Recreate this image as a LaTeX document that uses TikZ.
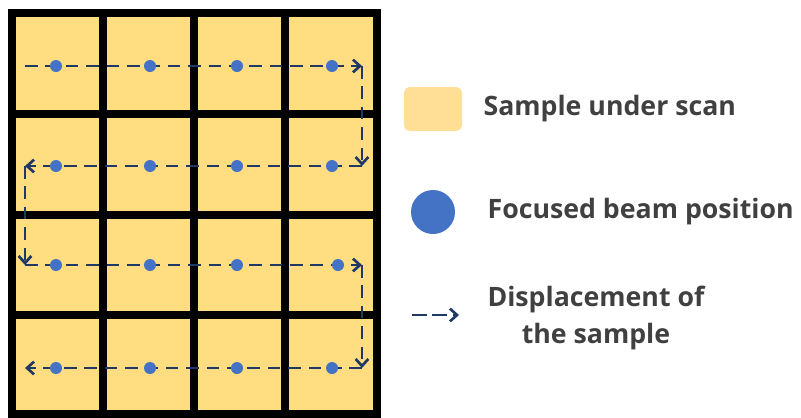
\documentclass[tikz,border=0pt]{standalone}
\usepackage{fontspec}
\setmainfont{Open Sans}
\usepackage{xcolor}
\usepackage{tikz}
\usetikzlibrary{arrows.meta,shapes,positioning}

\definecolor{samplefill}{RGB}{255,221,128}
\definecolor{legendfill}{RGB}{255,222,150}
\definecolor{beamblue}{RGB}{68,114,196}
\definecolor{pathblue}{RGB}{31,56,100}
\definecolor{textgray}{RGB}{64,64,64}

\begin{document}
\begin{tikzpicture}[
    x=0.025cm, y=-0.025cm,
    gridline/.style={line width=5pt, black},
    beam/.style={circle, fill=beamblue, inner sep=0pt, minimum size=0.3cm},
    scan/.style={pathblue, line width=1.9pt, dash pattern=on 9pt off 5.5pt, -{Straight Barb[length=5pt, width=9pt]}},
    legtext/.style={inner sep=0pt, text=textgray, font=\fontsize{19}{26}\selectfont\bfseries}
  ]
    \useasboundingbox (0,0) rectangle (801,417);

    % Sample grid
    \fill[samplefill] (12,13) rectangle (377,414);
    \draw[gridline] (12,13) rectangle (377,414);
    \draw[gridline] (103,13) -- (103,414);
    \draw[gridline] (194,13) -- (194,414);
    \draw[gridline] (285,13) -- (285,414);
    \draw[gridline] (12,114) -- (377,114);
    \draw[gridline] (12,215) -- (377,215);
    \draw[gridline] (12,315) -- (377,315);

    % Scan path corners
    \coordinate (c1) at (25,66);
    \coordinate (c2) at (362,66);
    \coordinate (c3) at (362,166);
    \coordinate (c4) at (25,166);
    \coordinate (c5) at (25,265);
    \coordinate (c6) at (362,265);
    \coordinate (c7) at (362,368);
    \coordinate (c8) at (25,368);

    % Scan path
    \draw[scan] (c1) -- (c2);
    \draw[scan] (c2) -- (c3);
    \draw[scan] (c3) -- (c4);
    \draw[scan] (c4) -- (c5);
    \draw[scan] (c5) -- (c6);
    \draw[scan] (c6) -- (c7);
    \draw[scan] (c7) -- (c8);

    % Beam positions
    \node[beam] (dot11) at (56,66) {};
    \node[beam] (dot12) at (150,66) {};
    \node[beam] (dot13) at (237,66) {};
    \node[beam] (dot14) at (332,66) {};
    \node[beam] (dot21) at (56,166) {};
    \node[beam] (dot22) at (150,166) {};
    \node[beam] (dot23) at (237,166) {};
    \node[beam] (dot24) at (332,166) {};
    \node[beam] (dot31) at (56,265) {};
    \node[beam] (dot32) at (150,265) {};
    \node[beam] (dot33) at (237,265) {};
    \node[beam] (dot34) at (338,265) {};
    \node[beam] (dot41) at (56,368) {};
    \node[beam] (dot42) at (150,368) {};
    \node[beam] (dot43) at (237,368) {};
    \node[beam] (dot44) at (332,368) {};

    % Legend
    \node[rectangle, rounded corners=4pt, fill=legendfill, minimum width=1.45cm, minimum height=1.1cm, inner sep=0pt] (leg_sample) at (433,109) {};
    \node[legtext, anchor=west, right=0.525cm of leg_sample] (txt_sample) {Sample under scan};
    \node[circle, fill=beamblue, minimum size=1.1cm, inner sep=0pt] (leg_beam) at (433,212) {};
    \node[legtext, anchor=west, right=0.8cm of leg_beam] (txt_beam) {Focused beam position};
    \coordinate (leg_a) at (412,315);
    \coordinate (leg_b) at (459,315);
    \draw[pathblue, line width=1.9pt, dash pattern=on 10.5pt off 4pt, -{Straight Barb[length=5pt, width=9pt]}] (leg_a) -- (leg_b);
    \node[legtext, align=center] (txt_move) at (596,318) {Displacement of\\the sample};
\end{tikzpicture}
\end{document}
